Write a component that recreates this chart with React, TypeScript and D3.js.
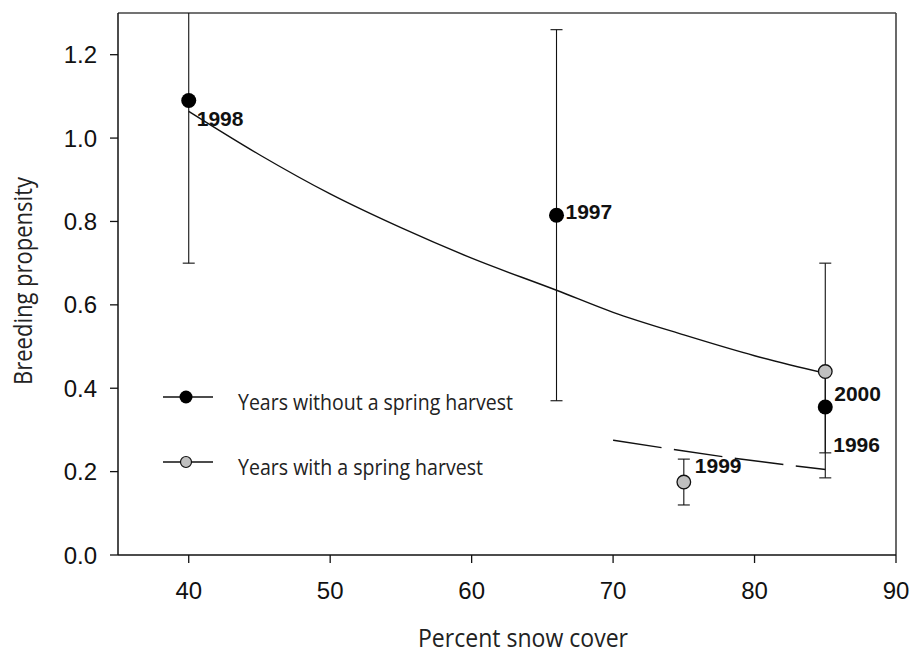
import React from 'react';
import * as d3 from 'd3';

// ---- data ----
const years = ['1998', '1997', '2000', '1999', '1996'];
const snowCover = [40, 66, 85, 75, 85];
const propensity = [1.09, 0.815, 0.355, 0.175, 0.44];
const errLow = [0.70, 0.37, 0.245, 0.12, 0.185];
const errHigh = [1.48, 1.26, 0.44, 0.23, 0.70];
const harvestYear = [false, false, false, true, true];

const fitNoHarvestX = [40, 45, 50, 55, 60, 66, 70, 75, 80, 85];
const fitNoHarvestY = [1.064, 0.96, 0.866, 0.785, 0.712, 0.635, 0.582, 0.528, 0.478, 0.436];
const fitHarvestX = [70, 78.7, 85];
const fitHarvestY = [0.2755, 0.2315, 0.205];

const xTicks = [40, 50, 60, 70, 80, 90];
const yTicks = [0, 0.2, 0.4, 0.6, 0.8, 1.0, 1.2];

const legendLabels = ['Years without a spring harvest', 'Years with a spring harvest'];

// ---- layout ----
const W = 912, H = 653;
const M = { left: 118, right: 896, top: 13, bottom: 555 };
const labelOffset: Record<string, [number, number]> = {
  '1998': [8, 25],
  '1997': [9, 4],
  '2000': [9, -6],
  '1999': [11, -9],
  '1996': [8, 80],
};

export default function App() {
  const x = d3.scaleLinear().domain([35, 90]).range([M.left, M.right]);
  const y = d3.scaleLinear().domain([0, 1.3]).range([M.bottom, M.top]);

  const line = d3.line<[number, number]>().x(d => x(d[0])).y(d => y(d[1])).curve(d3.curveMonotoneX);
  const solid = line(fitNoHarvestX.map((v, i) => [v, fitNoHarvestY[i]] as [number, number])) || '';
  const dashed = line(fitHarvestX.map((v, i) => [v, fitHarvestY[i]] as [number, number])) || '';

  const pts = years.map((yr, i) => ({
    yr, x: snowCover[i], y: propensity[i], lo: errLow[i], hi: errHigh[i], harvest: harvestYear[i],
  }));

  const tickFont = '"Liberation Sans", Arial, sans-serif';
  const titleFont = '"Open Sans", "Noto Sans", sans-serif';

  return (
    <svg width={W} height={H} style={{ position: 'absolute', left: 0, top: 0, background: '#fff' }}>
      <defs>
        <clipPath id="plotClip">
          <rect x={M.left} y={M.top} width={M.right - M.left} height={M.bottom - M.top} />
        </clipPath>
      </defs>
      <rect x={0} y={0} width={W} height={H} fill="#fff" />

      {/* frame */}
      <line x1={M.left} x2={M.right} y1={M.top} y2={M.top} stroke="#444" strokeWidth={1.6} />
      <line x1={M.right} x2={M.right} y1={M.top} y2={M.bottom} stroke="#444" strokeWidth={1.6} />
      <line x1={M.left} x2={M.left} y1={M.top} y2={M.bottom} stroke="#111" strokeWidth={1.5} />
      <line x1={M.left} x2={M.right} y1={M.bottom} y2={M.bottom} stroke="#111" strokeWidth={1.5} />

      {/* y ticks */}
      {yTicks.map(t => (
        <g key={'y' + t}>
          <line x1={M.left - 8} x2={M.left} y1={y(t)} y2={y(t)} stroke="#111" strokeWidth={1.3} />
          <text x={M.left - 21} y={y(t)} dy="0.36em" textAnchor="end" fontFamily={tickFont} fontSize={24} fill="#111">
            {t.toFixed(1)}
          </text>
        </g>
      ))}
      {/* x ticks */}
      {xTicks.map(t => (
        <g key={'x' + t}>
          <line x1={x(t)} x2={x(t)} y1={M.bottom} y2={M.bottom + 8} stroke="#111" strokeWidth={1.3} />
          <text x={x(t)} y={599} textAnchor="middle" fontFamily={tickFont} fontSize={24} fill="#111">
            {t}
          </text>
        </g>
      ))}

      {/* axis titles */}
      <text x={523} y={647} textAnchor="middle" fontFamily={titleFont} fontSize={25} fill="#222"
        textLength={210} lengthAdjust="spacingAndGlyphs">Percent snow cover</text>
      <text transform={`translate(32,281) rotate(-90)`} textAnchor="middle" fontFamily={titleFont} fontSize={25} fill="#222"
        textLength={208} lengthAdjust="spacingAndGlyphs">Breeding propensity</text>

      <g clipPath="url(#plotClip)">
        {/* error bars */}
        {pts.map(p => (
          <g key={'e' + p.yr} stroke="#111" strokeWidth={1.1}>
            <line x1={x(p.x)} x2={x(p.x)} y1={y(p.lo)} y2={y(p.hi)} />
            <line x1={x(p.x) - 6} x2={x(p.x) + 6} y1={y(p.lo)} y2={y(p.lo)} />
            <line x1={x(p.x) - 6} x2={x(p.x) + 6} y1={y(p.hi)} y2={y(p.hi)} />
          </g>
        ))}
        {/* fitted curves */}
        <path d={solid} fill="none" stroke="#111" strokeWidth={1.4} />
        <path d={dashed} fill="none" stroke="#111" strokeWidth={1.4} strokeDasharray="49 12.5" />
        {/* points */}
        {pts.filter(p => !p.harvest).map(p => (
          <circle key={'p' + p.yr} cx={x(p.x)} cy={y(p.y)} r={7.5} fill="#000" />
        ))}
        {pts.filter(p => p.harvest).map(p => (
          <circle key={'p' + p.yr} cx={x(p.x)} cy={y(p.y)} r={6.8} fill="#c0c0c0" stroke="#111" strokeWidth={1.3} />
        ))}
      </g>

      {/* point labels */}
      {pts.map(p => (
        <text key={'l' + p.yr} x={x(p.x) + labelOffset[p.yr][0]} y={y(p.y) + labelOffset[p.yr][1]}
          fontFamily={tickFont} fontWeight="bold" fontSize={21} fill="#111">{p.yr}</text>
      ))}

      {/* legend */}
      {legendLabels.map((lab, i) => {
        const cy = 397 + i * 65;
        return (
          <g key={'lg' + i}>
            <line x1={163} x2={213} y1={cy} y2={cy} stroke="#111" strokeWidth={1.4} />
            {i === 0
              ? <circle cx={186} cy={cy} r={6.5} fill="#000" />
              : <circle cx={186} cy={cy} r={5.5} fill="#c0c0c0" stroke="#111" strokeWidth={1.2} />}
            <text x={238} y={cy + 13} fontFamily={titleFont} fontSize={22} fill="#222"
              textLength={i === 0 ? 275 : 245} lengthAdjust="spacingAndGlyphs">{lab}</text>
          </g>
        );
      })}
    </svg>
  );
}
